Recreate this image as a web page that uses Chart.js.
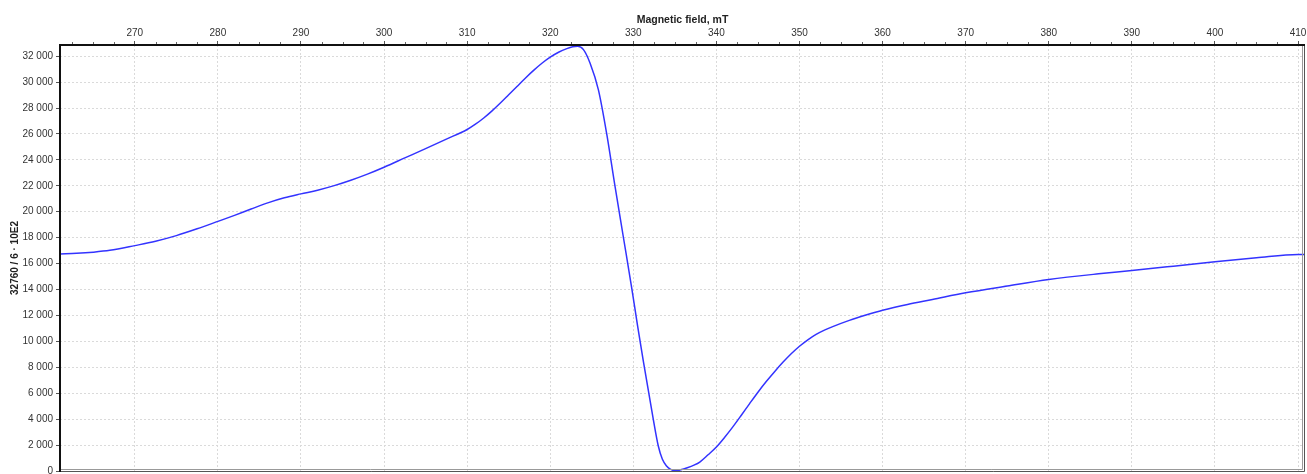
<!DOCTYPE html>
<html>
<head>
<meta charset="utf-8">
<title>Magnetic field, mT</title>
<script src="https://cdn.jsdelivr.net/npm/chart.js@4.4.0/dist/chart.umd.min.js"></script>
<style>
    html, body { margin: 0; padding: 0; background: #fff; }
    #wrap { width: 1307px; height: 474px; position: relative; }
</style>
</head>
<body>
<div id="wrap"><canvas id="eprChart"></canvas></div>
<script>
// Spectrum samples: field (mT) and signal amplitude
const fieldMT = [
    261, 263, 265, 267, 270, 272.5, 275, 277.5, 280, 282, 284, 286, 288, 290,
    292, 294, 296, 298, 300, 302.5, 305, 307.5, 310, 311, 312, 313, 314, 315,
    316, 317, 318, 319, 320, 321, 322, 322.7, 323.3, 324, 324.8, 325.8, 326.8,
    327.8, 328.8, 329.8, 330.5, 331.2, 332.4, 333, 333.5, 334, 334.5, 335.1,
    335.7, 336.5, 337.3, 338, 339, 340, 341, 342, 343, 344, 345, 346, 347, 348,
    349, 350, 351, 352, 353, 354, 356, 358, 360, 363, 366, 370, 375, 380, 386,
    390, 395, 400, 405, 410, 410.84
];
const signal = [
    16740, 16790, 16880, 17020, 17385, 17720, 18154, 18680, 19254, 19720, 20207, 20680, 21070, 21375,
    21660, 22015, 22430, 22900, 23430, 24150, 24870, 25600, 26340, 26750, 27230, 27780, 28380, 29020,
    29660, 30300, 30900, 31450, 31920, 32300, 32580, 32720, 32760, 32500, 31450, 29400, 26000,
    21950, 18050, 14150, 11250, 8500, 4000, 1950, 900, 380, 120, 20,
    90, 250, 450, 690, 1250, 1850, 2600, 3420, 4300, 5200, 6080, 6900, 7660, 8380,
    9040, 9620, 10120, 10540, 10870, 11140, 11620, 12030, 12400, 12850, 13230, 13746, 14270, 14770, 15210,
    15460, 15800, 16150, 16450, 16700, 16700
];

const fieldTicks = [270, 280, 290, 300, 310, 320, 330, 340, 350, 360, 370, 380, 390, 400, 410];
const signalTicks = [0, 2000, 4000, 6000, 8000, 10000, 12000, 14000, 16000,
    18000, 20000, 22000, 24000, 26000, 28000, 30000, 32000];
const fieldMinorStep = 2.5;

function formatThousands(value) {
    return String(value).replace(/\B(?=(\d{3})+(?!\d))/g, ' ');
}

// heavy frame on top/left, thin double edge on right/bottom, minor ticks on the field axis
const framePlugin = {
    id: 'frame',
    afterDatasetsDraw(chart) {
        const ctx = chart.ctx;
        const a = chart.chartArea;
        const xs = chart.scales.x;
        ctx.save();

        ctx.lineWidth = 1;
        ctx.strokeStyle = '#999';
        ctx.beginPath();
        ctx.moveTo(a.right - 2.5, a.top);
        ctx.lineTo(a.right - 2.5, a.bottom - 1.5);
        ctx.lineTo(a.left, a.bottom - 1.5);
        ctx.stroke();
        ctx.strokeStyle = '#555';
        ctx.beginPath();
        ctx.moveTo(a.right - 0.5, a.top);
        ctx.lineTo(a.right - 0.5, a.bottom + 0.5);
        ctx.lineTo(a.left, a.bottom + 0.5);
        ctx.stroke();

        ctx.strokeStyle = '#666';
        ctx.beginPath();
        for (let v = Math.ceil(xs.min / fieldMinorStep) * fieldMinorStep; v <= xs.max; v += fieldMinorStep) {
            if (v % 10 === 0) continue;
            const px = Math.round(xs.getPixelForValue(v)) + 0.5;
            ctx.moveTo(px, a.top);
            ctx.lineTo(px, a.top - 3);
        }
        ctx.stroke();

        ctx.lineWidth = 2;
        ctx.strokeStyle = '#111';
        ctx.beginPath();
        ctx.moveTo(a.left, a.bottom + 1);
        ctx.lineTo(a.left, a.top);
        ctx.lineTo(a.right, a.top);
        ctx.stroke();
        ctx.restore();
    }
};

document.addEventListener('DOMContentLoaded', function () {
    const ctx = document.getElementById('eprChart').getContext('2d');
    new Chart(ctx, {
        type: 'line',
        data: {
            datasets: [{
                data: fieldMT.map((f, i) => ({ x: f, y: signal[i] })),
                borderColor: '#3333ff',
                borderWidth: 1.5,
                pointRadius: 0,
                cubicInterpolationMode: 'monotone',
                fill: false
            }]
        },
        plugins: [framePlugin],
        options: {
            responsive: true,
            maintainAspectRatio: false,
            animation: false,
            layout: { padding: { top: 0, left: 0, right: 2, bottom: 3 } },
            plugins: {
                legend: { display: false },
                tooltip: { enabled: false }
            },
            scales: {
                x: {
                    type: 'linear',
                    position: 'top',
                    min: 261,
                    max: 410.84,
                    afterBuildTicks: function (scale) {
                        scale.ticks = fieldTicks.map(v => ({ value: v }));
                    },
                    afterFit: function (scale) {
                        scale.height = 45;
                        scale.paddingLeft = 0;
                        scale.paddingRight = 0;
                    },
                    ticks: {
                        font: { family: 'Liberation Sans', size: 10 },
                        color: '#333',
                        padding: 2,
                        maxRotation: 0,
                        autoSkip: false
                    },
                    title: {
                        display: true,
                        text: 'Magnetic field, mT',
                        font: { family: 'Liberation Sans', size: 10.5, weight: 'bold' },
                        color: '#222',
                        padding: { top: 14, bottom: 0 }
                    },
                    grid: {
                        color: '#dadada',
                        tickColor: '#555',
                        tickLength: 4
                    },
                    border: { display: false, dash: [2, 2] }
                },
                y: {
                    type: 'linear',
                    min: 0,
                    max: 32860,
                    afterBuildTicks: function (scale) {
                        scale.ticks = signalTicks.map(v => ({ value: v }));
                    },
                    afterFit: function (scale) {
                        scale.width = 60;
                        scale.paddingTop = 0;
                        scale.paddingBottom = 0;
                    },
                    ticks: {
                        font: { family: 'Liberation Sans', size: 10 },
                        color: '#333',
                        padding: 3,
                        autoSkip: false,
                        callback: function (value) {
                            return formatThousands(value);
                        }
                    },
                    title: {
                        display: true,
                        text: '32760 / 6 · 10E2',
                        font: { family: 'Liberation Sans', size: 10, weight: 'bold' },
                        color: '#222',
                        padding: { top: 9, bottom: 0 }
                    },
                    grid: {
                        color: '#dadada',
                        tickColor: '#555',
                        tickLength: 4
                    },
                    border: { display: false, dash: [2, 2] }
                }
            }
        }
    });
});
</script>
</body>
</html>
